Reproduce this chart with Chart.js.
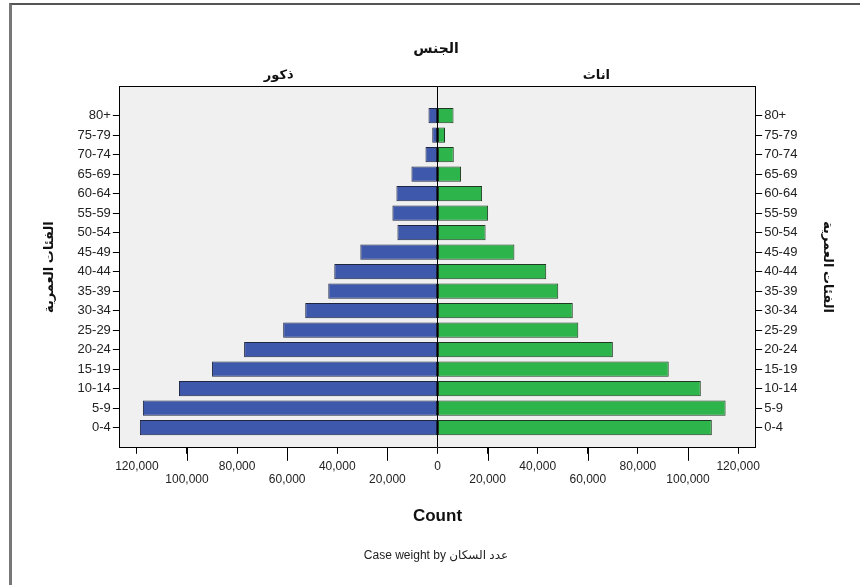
<!DOCTYPE html>
<html>
<head>
<meta charset="utf-8">
<script src="https://cdn.jsdelivr.net/npm/chart.js@4.4.1/dist/chart.umd.min.js"></script>
<style>
  html, body { margin: 0; padding: 0; background: #fff; }
  #wrap { position: relative; width: 860px; height: 585px; overflow: hidden; }
  #frame { position: absolute; left: 9px; top: 3px; right: -10px; bottom: -10px;
           border-left: 3px solid #777; border-top: 2px solid #555; pointer-events: none; }
  canvas { position: absolute; left: 0; top: 0; }
</style>
</head>
<body>
<div id="wrap">
  <canvas id="pyramid" width="860" height="585"></canvas>
  <div id="frame"></div>
</div>
<script>
// الفئات العمرية (من الأصغر إلى الأكبر)
var ageGroups = ['0-4', '5-9', '10-14', '15-19', '20-24', '25-29', '30-34', '35-39',
                 '40-44', '45-49', '50-54', '55-59', '60-64', '65-69', '70-74', '75-79', '80+'];
// ذكور
var males = [118800, 117600, 103200, 90000, 77200, 61600, 52800, 43600,
             41200, 30800, 16000, 18000, 16400, 10400, 4800, 2100, 3600];
// اناث
var females = [109500, 115000, 105100, 92300, 70000, 56200, 54000, 48200,
               43400, 30700, 19200, 20200, 17800, 9400, 6500, 3000, 6400];
var panelLabels = ['ذكور', 'اناث'];
var xTicks = [-120000, -100000, -80000, -60000, -40000, -20000, 0,
              20000, 40000, 60000, 80000, 100000, 120000];

var FONT = "'Liberation Sans', 'DejaVu Sans', Arial, sans-serif";

var maleData = males.map(function (v, i) { return { x: -v, y: i }; });
var femaleData = females.map(function (v, i) { return { x: v, y: i }; });

function isLowerRow(v) {
    return (Math.abs(v) / 20000) % 2 === 1;
}

// خلفية رمادية لمنطقة الرسم
var plotBackground = {
    id: 'plotBackground',
    beforeDraw: function (chart) {
        var a = chart.chartArea, ctx = chart.ctx;
        ctx.save();
        ctx.fillStyle = '#F0F0F0';
        ctx.fillRect(a.left, a.top, a.right - a.left, a.bottom - a.top);
        ctx.restore();
    }
};

// علامات أطول للصف السفلي من أرقام المحور
var longTicks = {
    id: 'longTicks',
    afterDraw: function (chart) {
        var s = chart.scales.x, ctx = chart.ctx;
        ctx.save();
        ctx.strokeStyle = '#000';
        ctx.lineWidth = 1;
        xTicks.forEach(function (v) {
            if (!isLowerRow(v)) return;
            var px = Math.round(s.getPixelForValue(v)) + 0.5;
            ctx.beginPath();
            ctx.moveTo(px, s.top);
            ctx.lineTo(px, s.top + 13);
            ctx.stroke();
        });
        ctx.restore();
    }
};

function yAxis(pos) {
    return {
        type: 'linear',
        position: pos,
        min: -1.03,
        max: 17.5,
        offset: false,
        stacked: true,
        afterBuildTicks: function (scale) {
            scale.ticks = ageGroups.map(function (_, i) { return { value: i }; });
        },
        ticks: {
            autoSkip: false,
            color: '#222',
            padding: 2,
            font: { family: FONT, size: 13 },
            callback: function (v) { return ageGroups[v]; }
        },
        grid: { offset: false, drawOnChartArea: false, drawTicks: true, tickLength: 7, tickColor: '#000' },
        border: { display: true, color: '#000', width: 1 },
        title: {
            display: true,
            text: 'الفئات العمرية',
            color: '#111',
            font: { family: FONT, size: 13, weight: 'bold' },
            padding: pos === 'left' ? { top: 30, bottom: 18 } : { top: 25, bottom: 20 }
        }
    };
}

var ctx = document.getElementById('pyramid').getContext('2d');
var chart = new Chart(ctx, {
    type: 'bar',
    data: {
        datasets: [{
            label: 'ذكور',
            data: maleData,
            backgroundColor: '#3E58AC',
            borderColor: '#1E2540',
            borderWidth: 1,
            borderSkipped: false,
            barPercentage: 0.78,
            categoryPercentage: 1
        }, {
            label: 'اناث',
            data: femaleData,
            backgroundColor: '#2DB44B',
            borderColor: '#1F3A22',
            borderWidth: 1,
            borderSkipped: false,
            barPercentage: 0.78,
            categoryPercentage: 1
        }]
    },
    options: {
        indexAxis: 'y',
        responsive: false,
        animation: false,
        layout: { padding: { left: 12, right: 0, top: 0, bottom: 0 } },
        scales: {
            x: {
                type: 'linear',
                position: 'bottom',
                min: -126800,
                max: 126800,
                offset: false,
                stacked: true,
                afterBuildTicks: function (scale) {
                    scale.ticks = xTicks.map(function (v) { return { value: v }; });
                },
                ticks: {
                    autoSkip: false,
                    maxRotation: 0,
                    color: '#222',
                    padding: 6,
                    font: { family: FONT, size: 12, lineHeight: 1.1 },
                    callback: function (v) {
                        var t = Math.abs(v).toLocaleString('en-US');
                        return isLowerRow(v) ? ['', t] : t;
                    }
                },
                grid: {
                    offset: false,
                    drawTicks: true,
                    tickLength: 6,
                    tickColor: '#000',
                    color: function (c) { return c.tick && c.tick.value === 0 ? '#000' : 'rgba(0,0,0,0)'; }
                },
                border: { display: true, color: '#000', width: 1 },
                title: {
                    display: true,
                    text: 'Count',
                    color: '#111',
                    font: { family: FONT, size: 17, weight: 'bold' },
                    padding: { top: 14, bottom: 4 }
                }
            },
            x2: {
                type: 'category',
                position: 'top',
                labels: panelLabels,
                offset: true,
                grid: { display: false, drawTicks: false },
                border: { display: true, color: '#000', width: 1 },
                ticks: {
                    color: '#111',
                    padding: 3,
                    font: { family: FONT, size: 13, weight: 'bold' }
                }
            },
            y: yAxis('left'),
            y2: yAxis('right')
        },
        plugins: {
            legend: { display: false },
            tooltip: { enabled: false },
            title: {
                display: true,
                text: 'الجنس',
                color: '#111',
                font: { family: FONT, size: 14, weight: 'bold' },
                padding: { top: 41, bottom: 7 }
            },
            subtitle: {
                display: true,
                position: 'bottom',
                text: 'Case weight by عدد السكان',
                color: '#222',
                font: { family: FONT, size: 12, weight: 'normal' },
                padding: { top: 18, bottom: 22 }
            }
        }
    },
    plugins: [plotBackground, longTicks]
});
</script>
</body>
</html>
